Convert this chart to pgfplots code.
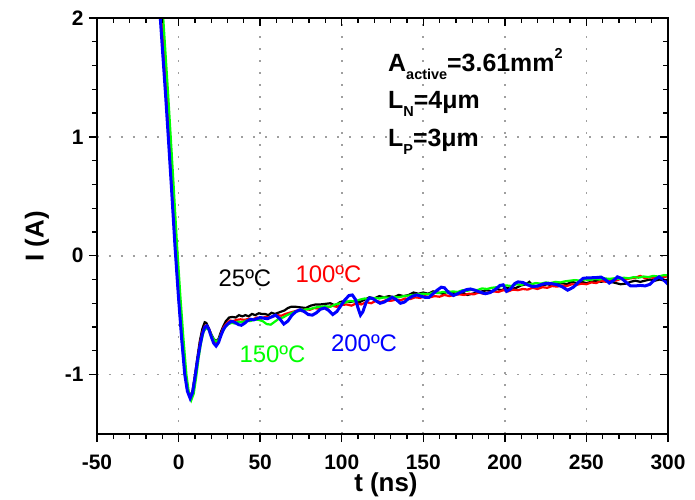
\documentclass[border=0pt]{standalone}
\usepackage{fontspec}
\setmainfont{Liberation Sans}
\usepackage{pgfplots}
\pgfplotsset{compat=1.18}
\definecolor{gOrig}{RGB}{0,255,0}
\newcommand{\tfont}{\fontsize{24}{24}\selectfont}
\newcommand{\afont}{\fontsize{25}{25}\selectfont}
\newcommand{\subf}{\fontsize{14.5}{14.5}\selectfont}
\begin{document}
\begin{tikzpicture}
\path[use as bounding box] (-97bp,-66bp) rectangle (598bp,434bp);
\begin{axis}[scale only axis,width=571bp,height=416bp,
  xmin=-50,xmax=300,ymin=-1.5,ymax=2,
  xtick={-50,0,...,300},xticklabels={-50,0,50,100,150,200,250,300},
  ytick={-1,0,1,2},yticklabels={-1,0,1,2},
  minor x tick num=4,minor y tick num=4,
  xtick pos=left,ytick pos=left,tick align=outside,
  major tick length=8bp,minor tick length=5bp,
  every tick/.style={black,line width=1.3bp},
  axis line style={line width=1.6bp},
  grid=major,major grid style={gray!75,line width=1.8bp,dash pattern=on 1.8bp off 10.2bp},
  ticklabel style={font=\fontsize{21}{21}\selectfont\bfseries},
  xticklabel style={yshift=-9bp},
  yticklabel style={xshift=-2bp},
  xlabel={t (ns)},ylabel={I (A)},
  label style={font=\fontsize{26}{26}\selectfont\bfseries},
  xlabel style={at={(axis description cs:0.506,0)},anchor=center,yshift=-51bp},
  ylabel style={at={(axis description cs:-0.105,0.475)},anchor=center},
]
% 25 C
\addplot[black,line width=2.2bp] coordinates {(-11.5,2.25) (-10.5,2.0) (-9,1.68) (-7.5,1.36) (-6,1.02) (-4,0.56) (-2,0.08) (0,-0.34) (2,-0.70) (4,-1.00) (5.5,-1.13) (7,-1.18) (8.5,-1.14) (10,-1.01) (11.5,-0.86) (13,-0.72) (14.5,-0.62) (16,-0.56) (17,-0.565) (18.5,-0.61) (20,-0.66) (21.5,-0.70) (23,-0.72) (24.5,-0.70) (26,-0.64) (27.5,-0.59) (29,-0.55) (31,-0.52) (33,-0.515) (35,-0.52) (37,-0.50) (39,-0.51) (41,-0.50) (43,-0.51) (45,-0.49) (47,-0.50) (49,-0.485) (51,-0.49) (53,-0.49) (55,-0.50) (57,-0.48) (59,-0.49) (61,-0.48) (63,-0.47) (65,-0.46) (67,-0.44) (69,-0.43) (72,-0.43) (75,-0.435) (78,-0.44) (81,-0.42) (84,-0.41) (87,-0.41) (90,-0.405) (93,-0.40) (96,-0.42) (99,-0.39) (102,-0.385) (105,-0.39) (108,-0.38) (111,-0.39) (114,-0.37) (117,-0.35) (120,-0.36) (123,-0.34) (126,-0.35) (129,-0.34) (132,-0.35) (135,-0.33) (138,-0.34) (141,-0.33) (144,-0.31) (147,-0.32) (150,-0.31) (153,-0.32) (156,-0.30) (159,-0.31) (162,-0.32) (165,-0.30) (168,-0.31) (171,-0.32) (174,-0.31) (177,-0.33) (180,-0.32) (183,-0.31) (186,-0.30) (189,-0.29) (192,-0.30) (195,-0.28) (198,-0.29) (201,-0.27) (204,-0.28) (207,-0.27) (210,-0.25) (213,-0.24) (215,-0.22) (217,-0.25) (220,-0.26) (223,-0.25) (226,-0.24) (229,-0.25) (232,-0.24) (235,-0.23) (238,-0.24) (241,-0.22) (244,-0.23) (247,-0.22) (250,-0.23) (253,-0.22) (256,-0.21) (259,-0.22) (262,-0.21) (265,-0.22) (268,-0.23) (271,-0.24) (274,-0.235) (277,-0.22) (280,-0.21) (283,-0.22) (286,-0.21) (289,-0.20) (292,-0.21) (295,-0.20) (298,-0.21) (300,-0.20)};
% 100 C
\addplot[red,line width=2.2bp] coordinates {(-11.2,2.25) (-10.2,2.0) (-8.7,1.68) (-7.2,1.36) (-5.7,1.02) (-3.7,0.56) (-1.7,0.08) (0.3,-0.34) (2.3,-0.70) (4.2,-1.00) (5.7,-1.13) (7.2,-1.185) (8.7,-1.15) (10.2,-1.02) (11.7,-0.87) (13.2,-0.73) (14.7,-0.64) (16.2,-0.59) (17.2,-0.59) (18.7,-0.62) (20.2,-0.67) (21.7,-0.71) (23.2,-0.73) (24.7,-0.71) (26.2,-0.65) (27.7,-0.60) (29.5,-0.57) (31.5,-0.545) (33.5,-0.55) (35.5,-0.54) (38,-0.535) (40.5,-0.54) (43,-0.53) (45.5,-0.535) (48,-0.52) (50.5,-0.53) (53,-0.515) (55.5,-0.52) (58,-0.51) (60.5,-0.50) (63,-0.505) (65.5,-0.49) (68,-0.48) (70.5,-0.47) (73,-0.46) (75.5,-0.465) (78,-0.45) (80.5,-0.455) (83,-0.44) (85.5,-0.445) (88,-0.43) (91,-0.44) (94,-0.42) (97,-0.43) (100,-0.415) (103,-0.41) (106,-0.42) (109,-0.40) (112,-0.41) (115,-0.39) (118,-0.40) (121,-0.38) (124,-0.39) (127,-0.375) (130,-0.38) (133,-0.37) (136,-0.375) (139,-0.36) (142,-0.365) (145,-0.35) (148,-0.355) (151,-0.34) (154,-0.35) (157,-0.34) (160,-0.345) (163,-0.33) (166,-0.34) (169,-0.33) (172,-0.325) (175,-0.33) (178,-0.32) (181,-0.325) (184,-0.31) (187,-0.32) (190,-0.31) (193,-0.30) (196,-0.305) (199,-0.29) (202,-0.30) (205,-0.285) (208,-0.29) (211,-0.28) (214,-0.285) (217,-0.27) (220,-0.28) (223,-0.265) (226,-0.27) (229,-0.255) (232,-0.26) (235,-0.25) (238,-0.255) (241,-0.24) (244,-0.245) (247,-0.235) (250,-0.24) (253,-0.225) (256,-0.23) (259,-0.21) (262,-0.22) (265,-0.20) (268,-0.21) (271,-0.195) (274,-0.20) (277,-0.19) (280,-0.185) (283,-0.17) (286,-0.19) (289,-0.18) (292,-0.19) (295,-0.175) (298,-0.18) (300,-0.17)};
% 150 C
\addplot[gOrig,line width=2.2bp] coordinates {(-10.2,2.25) (-9.4,2.0) (-7.9,1.68) (-6.4,1.36) (-4.9,1.02) (-2.9,0.56) (-0.9,0.08) (1.1,-0.34) (3.0,-0.70) (4.8,-1.00) (6.3,-1.15) (7.8,-1.215) (9.3,-1.16) (10.8,-1.02) (12.3,-0.86) (13.8,-0.73) (15.3,-0.64) (16.8,-0.61) (18,-0.615) (19.5,-0.65) (21,-0.69) (22.5,-0.72) (24,-0.72) (25.5,-0.68) (27,-0.64) (28.5,-0.60) (30.5,-0.575) (32.5,-0.565) (34.5,-0.57) (36.5,-0.555) (39,-0.56) (41.5,-0.545) (44,-0.55) (46.5,-0.535) (49,-0.54) (51.5,-0.55) (54,-0.575) (56.5,-0.58) (59,-0.555) (61.5,-0.53) (64,-0.52) (66.5,-0.50) (69,-0.485) (71.5,-0.47) (74,-0.465) (76.5,-0.455) (79,-0.45) (81.5,-0.445) (84,-0.435) (87,-0.43) (90,-0.425) (93,-0.43) (96,-0.41) (99,-0.40) (102,-0.395) (105,-0.38) (108,-0.385) (111,-0.37) (114,-0.36) (117,-0.365) (120,-0.355) (123,-0.36) (126,-0.35) (129,-0.355) (132,-0.345) (135,-0.35) (138,-0.34) (141,-0.335) (144,-0.33) (147,-0.325) (150,-0.32) (153,-0.325) (156,-0.31) (159,-0.315) (162,-0.305) (165,-0.31) (168,-0.30) (171,-0.305) (174,-0.29) (177,-0.295) (180,-0.285) (183,-0.29) (186,-0.275) (189,-0.28) (192,-0.27) (195,-0.265) (198,-0.255) (201,-0.25) (204,-0.255) (207,-0.24) (210,-0.245) (213,-0.235) (216,-0.24) (219,-0.23) (222,-0.235) (225,-0.225) (228,-0.23) (231,-0.22) (234,-0.225) (237,-0.215) (240,-0.21) (243,-0.205) (246,-0.21) (249,-0.20) (252,-0.205) (255,-0.195) (258,-0.20) (261,-0.19) (264,-0.195) (267,-0.19) (270,-0.195) (273,-0.185) (276,-0.19) (279,-0.18) (282,-0.185) (285,-0.175) (288,-0.18) (291,-0.17) (294,-0.175) (297,-0.165) (300,-0.165)};
% 200 C
\addplot[blue,line width=3bp] coordinates {(-12.2,2.25) (-11.2,2.0) (-9.6,1.68) (-8,1.36) (-6.4,1.02) (-4.3,0.56) (-2.2,0.08) (-0.1,-0.34) (1.9,-0.70) (3.8,-1.00) (5.4,-1.14) (7.1,-1.20) (8.6,-1.15) (10.1,-1.02) (11.6,-0.88) (13.1,-0.76) (14.6,-0.66) (16.1,-0.60) (17.3,-0.59) (18.6,-0.62) (20,-0.68) (21.5,-0.735) (23,-0.76) (24.5,-0.73) (26,-0.67) (27.5,-0.62) (29,-0.59) (30.5,-0.57) (32,-0.555) (33.5,-0.555) (35,-0.565) (36.8,-0.58) (38.5,-0.585) (40.3,-0.57) (42,-0.55) (44,-0.535) (46,-0.54) (48,-0.53) (50,-0.52) (52,-0.525) (54.5,-0.53) (57,-0.515) (59.5,-0.50) (62,-0.53) (64.5,-0.575) (67,-0.55) (69.5,-0.50) (72,-0.47) (74.5,-0.455) (77,-0.47) (79.5,-0.495) (82,-0.50) (84.5,-0.48) (87,-0.45) (89.5,-0.44) (92,-0.46) (94.5,-0.495) (97,-0.47) (99.5,-0.42) (102,-0.37) (104.5,-0.335) (106.5,-0.33) (108.5,-0.37) (110,-0.44) (111.5,-0.50) (113,-0.47) (115,-0.39) (117,-0.355) (119,-0.36) (121,-0.38) (123.5,-0.40) (126,-0.39) (128.5,-0.37) (131,-0.35) (133.5,-0.37) (136,-0.40) (138.5,-0.39) (141,-0.36) (143.5,-0.34) (146,-0.33) (148.5,-0.34) (151,-0.35) (153.5,-0.35) (156,-0.32) (158.5,-0.29) (161,-0.265) (163,-0.27) (165.5,-0.31) (168.5,-0.335) (171,-0.32) (174,-0.30) (176.5,-0.285) (179,-0.28) (181.5,-0.29) (184.5,-0.305) (188,-0.32) (191,-0.31) (194,-0.285) (197,-0.25) (199,-0.245) (201,-0.30) (203.5,-0.28) (206,-0.235) (208,-0.22) (211,-0.225) (214,-0.245) (217,-0.26) (220,-0.255) (223,-0.24) (225.5,-0.232) (228.5,-0.235) (231.5,-0.242) (235,-0.26) (238.5,-0.29) (242,-0.265) (245,-0.225) (248,-0.19) (251,-0.186) (255,-0.185) (259,-0.18) (261.5,-0.20) (264,-0.23) (266.5,-0.21) (269,-0.178) (271.5,-0.19) (274,-0.22) (277,-0.254) (280,-0.254) (283,-0.25) (286,-0.254) (289,-0.24) (292,-0.20) (294.5,-0.178) (297,-0.20) (300,-0.24)};
% annotations
\node[anchor=base west,font=\afont\bfseries,inner sep=0pt] at (axis cs:128.4,1.548) {A\raisebox{-8bp}{\subf active}=3.61mm\raisebox{13bp}{\subf 2}};
\node[anchor=base west,font=\afont\bfseries,inner sep=0pt] at (axis cs:128.4,1.240) {L\raisebox{-8bp}{\subf N}=4μm};
\node[anchor=base west,font=\afont\bfseries,inner sep=0pt] at (axis cs:128.4,0.923) {L\raisebox{-8bp}{\subf P}=3μm};
\node[font=\tfont,text=black,inner sep=0pt] at (axis cs:40.7,-0.187) {25ºC};
\node[font=\tfont,text=red,inner sep=0pt] at (axis cs:91.9,-0.158) {100ºC};
\node[font=\tfont,text=gOrig,inner sep=0pt] at (axis cs:57.6,-0.827) {150ºC};
\node[font=\tfont,text=blue,inner sep=0pt] at (axis cs:113.7,-0.734) {200ºC};
\end{axis}
\begin{axis}[scale only axis,width=571bp,height=416bp,
  xmin=-50,xmax=300,ymin=-1.5,ymax=2,
  xtick={-50,0,...,300},ytick={-1,0,1,2},
  xticklabels={},yticklabels={},
  minor x tick num=4,minor y tick num=4,
  xtick pos=right,ytick pos=right,tick align=inside,
  major tick length=8bp,minor tick length=5bp,
  every tick/.style={black,line width=1.3bp},
  axis line style={line width=1.6bp},
]
\end{axis}
\end{tikzpicture}
\end{document}
